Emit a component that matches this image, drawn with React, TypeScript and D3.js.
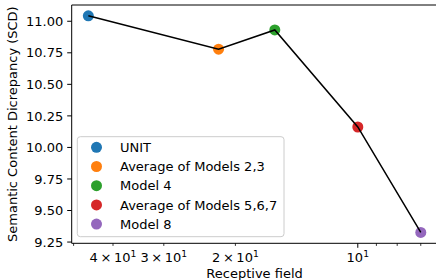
import React from "react";
import * as d3 from "d3";

const labels = [
  "UNIT",
  "Average of Models 2,3",
  "Model 4",
  "Average of Models 5,6,7",
  "Model 8",
];
const receptiveField = [46, 22, 16, 10, 7];
const scd = [11.043, 10.779, 10.931, 10.162, 9.326];
const colors = ["#1f77b4", "#ff7f0e", "#2ca02c", "#d62728", "#9467bd"];
const yTicks = [9.25, 9.5, 9.75, 10.0, 10.25, 10.5, 10.75, 11.0];
const xMajor = [10];
const xMinor = [7, 8, 9, 20, 30, 40, 50];
const xLabeled: [number, string][] = [
  [40, "4"],
  [30, "3"],
  [20, "2"],
];

const W = 436;
const H = 280;
const left = 71.7;
const right = 437.4;
const top = 5;
const bottom = 243.3;
const font = "DejaVu Sans, sans-serif";

export default function App() {
  // matplotlib style 5% margins (log space for x)
  const lx = receptiveField.map((v) => Math.log10(v));
  const lxMin = d3.min(lx)!;
  const lxMax = d3.max(lx)!;
  const mx = (lxMax - lxMin) * 0.05;
  const x = d3
    .scaleLog()
    .domain([Math.pow(10, lxMax + mx), Math.pow(10, lxMin - mx)])
    .range([left, right]);

  const yMin = d3.min(scd)!;
  const yMax = d3.max(scd)!;
  const my = (yMax - yMin) * 0.05;
  const y = d3
    .scaleLinear()
    .domain([yMin - my, yMax + my])
    .range([bottom, top]);

  const line = d3
    .line<number>()
    .x((_, i) => x(receptiveField[i]))
    .y((d) => y(d));

  return (
    <svg
      width={W}
      height={H}
      style={{ position: "absolute", left: 0, top: 0 }}
      fontFamily={font}
    >
      <rect width={W} height={H} fill="#fff" />

      {/* points */}
      {scd.map((d, i) => (
        <circle
          key={i}
          cx={x(receptiveField[i])}
          cy={y(d)}
          r={5.5}
          fill={colors[i]}
        />
      ))}
      <path d={line(scd)!} fill="none" stroke="#000" strokeWidth={1.5} />

      {/* spines */}
      <line x1={left} x2={left} y1={top} y2={bottom} stroke="#000" strokeWidth={1} />
      <line x1={left} x2={right} y1={bottom} y2={bottom} stroke="#000" strokeWidth={1} />
      <line x1={left} x2={right} y1={top} y2={top} stroke="#000" strokeWidth={1} />
      <line x1={right} x2={right} y1={top} y2={bottom} stroke="#000" strokeWidth={1} />

      {/* y ticks */}
      {yTicks.map((t) => (
        <g key={t}>
          <line x1={left - 4.5} x2={left} y1={y(t)} y2={y(t)} stroke="#000" />
          <text
            x={left - 8.5}
            y={y(t)}
            dy="0.36em"
            textAnchor="end"
            fontSize={13}
          >
            {t.toFixed(2)}
          </text>
        </g>
      ))}

      {/* x ticks */}
      {xMajor.map((t) => (
        <g key={t}>
          <line x1={x(t)} x2={x(t)} y1={bottom} y2={bottom + 4.5} stroke="#000" />
          <text x={x(t)} y={261.7} textAnchor="middle" fontSize={13}>
            10<tspan dy={-5} fontSize={9.2}>1</tspan>
          </text>
        </g>
      ))}
      {xMinor.map((t) => (
        <line
          key={t}
          x1={x(t)}
          x2={x(t)}
          y1={bottom}
          y2={bottom + 2.6}
          stroke="#000"
          strokeWidth={0.8}
        />
      ))}
      {xLabeled.map(([t, m]) => (
        <text key={t} x={x(t)} y={261.7} textAnchor="middle" fontSize={13}>
          {`${m}\u2009×\u200910`}
          <tspan dy={-5} fontSize={9.2}>1</tspan>
        </text>
      ))}

      {/* axis labels */}
      <text x={(left + right) / 2} y={277.5} textAnchor="middle" fontSize={13}>
        Receptive field
      </text>
      <text
        transform={`translate(16.5,${(top + bottom) / 2}) rotate(-90)`}
        textAnchor="middle"
        fontSize={13}
      >
        Semantic Content Dicrepancy (SCD)
      </text>

      {/* legend */}
      <rect
        x={77.3}
        y={136.7}
        width={206.7}
        height={100}
        rx={3}
        fill="#fff"
        fillOpacity={0.8}
        stroke="#cccccc"
        strokeWidth={1}
      />
      {labels.map((l, i) => (
        <g key={l} transform={`translate(0,${147.3 + i * 19.2})`}>
          <circle cx={96.5} cy={0} r={5.5} fill={colors[i]} />
          <text x={120} y={0} dy="0.36em" fontSize={13}>
            {l}
          </text>
        </g>
      ))}
    </svg>
  );
}
